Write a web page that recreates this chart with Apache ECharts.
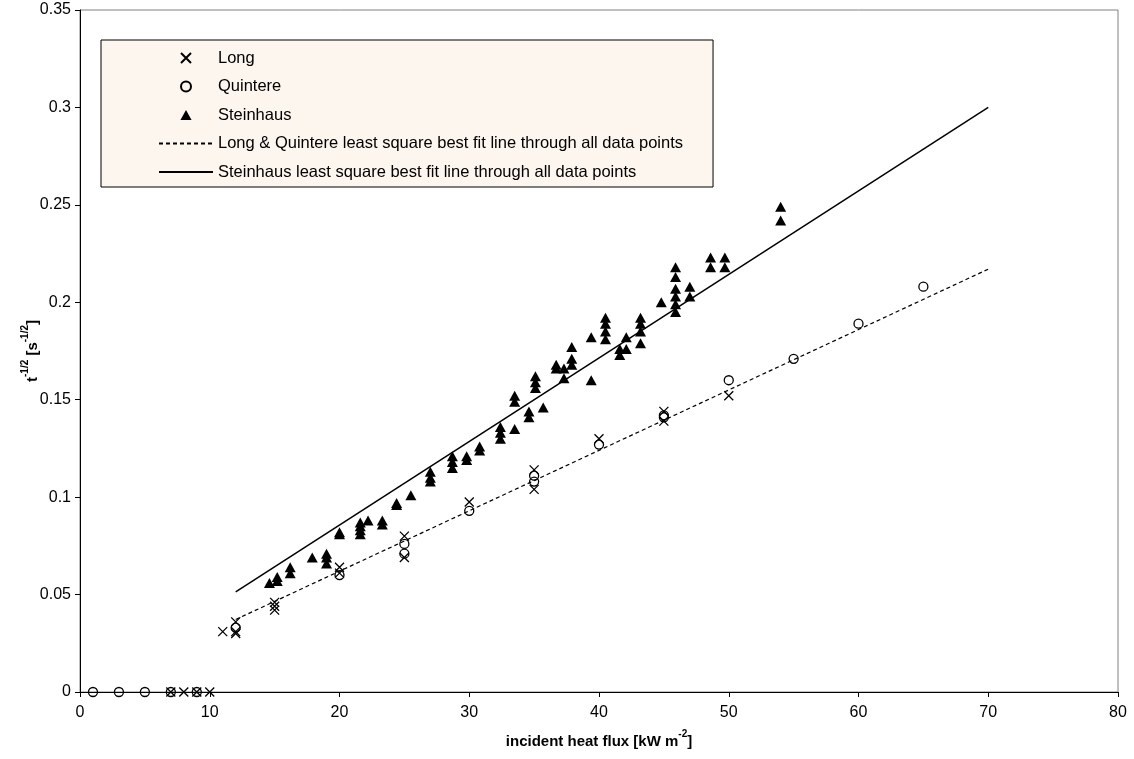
<!DOCTYPE html>
<html>
<head>
<meta charset="utf-8">
<script src="https://cdn.jsdelivr.net/npm/echarts@6/dist/echarts.min.js"></script>
<style>html,body{margin:0;padding:0;background:#fff}#chart{width:1134px;height:759px}</style>
</head>
<body>
<div id="chart"></div>
<script>
// Long data points [heat flux, t^-1/2]
const longPoints = [
  [7,0],[8,0],[9,0],[10,0],
  [11,0.031],[12,0.036],[12,0.031],[12,0.030],
  [15,0.046],[15,0.044],[15,0.042],
  [20,0.064],[20,0.061],
  [25,0.080],[25,0.069],
  [30,0.0975],
  [35,0.114],[35,0.104],
  [40,0.130],
  [45,0.144],[45,0.139],
  [50,0.152]
];
// Quintere data points
const quintPoints = [
  [1,0],[3,0],[5,0],[7,0],[9,0],
  [12,0.033],
  [20,0.060],
  [25,0.076],[25,0.071],
  [30,0.093],
  [35,0.111],[35,0.108],
  [40,0.127],
  [45,0.142],[45,0.141],
  [50,0.160],
  [55,0.171],
  [60,0.189],
  [65,0.208]
];
// Steinhaus data points
const steinPoints = [
  [14.6,0.056],
  [15.2,0.057],[15.2,0.059],
  [16.2,0.061],[16.2,0.064],
  [17.9,0.069],
  [19.0,0.066],[19.0,0.069],[19.0,0.071],
  [20.0,0.081],[20.0,0.082],
  [21.6,0.081],[21.6,0.083],[21.6,0.085],[21.6,0.087],
  [22.2,0.088],
  [23.3,0.086],[23.3,0.088],
  [24.4,0.096],[24.4,0.097],
  [25.5,0.101],
  [27.0,0.108],[27.0,0.110],[27.0,0.113],
  [28.7,0.115],[28.7,0.118],[28.7,0.121],
  [29.8,0.119],[29.8,0.121],
  [30.8,0.124],[30.8,0.126],
  [32.4,0.130],[32.4,0.133],[32.4,0.136],
  [33.5,0.135],[33.5,0.149],[33.5,0.152],
  [34.6,0.141],[34.6,0.144],
  [35.1,0.156],[35.1,0.159],[35.1,0.162],
  [35.7,0.146],
  [36.7,0.166],[36.7,0.168],
  [37.3,0.161],[37.3,0.166],
  [37.9,0.168],[37.9,0.171],[37.9,0.177],
  [39.4,0.160],[39.4,0.182],
  [40.5,0.181],[40.5,0.185],[40.5,0.189],[40.5,0.192],
  [41.6,0.173],[41.6,0.176],
  [42.1,0.176],[42.1,0.182],
  [43.2,0.179],[43.2,0.185],[43.2,0.189],[43.2,0.192],
  [44.8,0.200],
  [45.9,0.195],[45.9,0.199],[45.9,0.203],[45.9,0.207],[45.9,0.213],[45.9,0.218],
  [47.0,0.203],[47.0,0.208],
  [48.6,0.218],[48.6,0.223],
  [49.7,0.218],[49.7,0.223],
  [54.0,0.242],[54.0,0.249]
];
// Best fit lines (end points)
const lqFit = [[12,0.0372],[70,0.217]];
const steinFit = [[12,0.0514],[70,0.300]];
const xTicks = [0,10,20,30,40,50,60,70,80];
const yTicks = [0,0.05,0.1,0.15,0.2,0.25,0.3,0.35];

const names = [
  'Long',
  'Quintere',
  'Steinhaus',
  'Long & Quintere least square best fit line through all data points',
  'Steinhaus least square best fit line through all data points'
];
const font = 'Liberation Sans, Arial, sans-serif';
const crossPath = 'path://M0,0L10,10M10,0L0,10';
const triPath = 'path://M5,0L10,9L0,9Z';

const titleRich = {
  b: {fontFamily: font, fontSize: 15, fontWeight: 'bold', color: '#000', lineHeight: 20, verticalAlign: 'bottom'},
  s: {fontFamily: font, fontSize: 10, fontWeight: 'bold', color: '#000', lineHeight: 20, verticalAlign: 'top'}
};

const chart = echarts.init(document.getElementById('chart'), null, {renderer:'canvas'});
chart.setOption({
  animation: false,
  textStyle: {fontFamily: font},
  grid: {left: 80, right: 16, top: 10, bottom: 67, show: true, borderColor: '#808080', borderWidth: 1},
  legend: {
    orient: 'vertical',
    left: 101, top: 40,
    padding: [9, 30, 6, 57],
    backgroundColor: '#FDF6EE',
    borderColor: '#000', borderWidth: 1,
    itemWidth: 54, itemHeight: 10, itemGap: 10.5,
    symbolKeepAspect: true,
    textStyle: {fontFamily: font, fontSize: 16.5, color: '#000', lineHeight: 18},
    data: [
      {name: names[0]},
      {name: names[1]},
      {name: names[2], icon: triPath},
      {name: names[3], itemStyle: {opacity: 0}},
      {name: names[4], itemStyle: {opacity: 0}}
    ],
    selectedMode: false
  },
  xAxis: {
    type: 'value', min: xTicks[0], max: xTicks[xTicks.length-1], interval: 10,
    name: '{b|incident heat flux [kW m}{s|-2}{b|]}',
    nameLocation: 'middle', nameGap: 37, nameMoveOverlap: false,
    nameTextStyle: {rich: titleRich},
    axisLine: {lineStyle: {color: '#000', width: 1}},
    axisTick: {show: true, inside: false, length: 5, lineStyle: {color: '#000'}},
    axisLabel: {fontFamily: font, fontSize: 16, color: '#000', margin: 13},
    splitLine: {show: false}
  },
  yAxis: {
    type: 'value', min: yTicks[0], max: yTicks[yTicks.length-1], interval: 0.05,
    name: '{b|t}{s|-1/2}{b| [s}{s|-1/2}{b|]}',
    nameLocation: 'middle', nameGap: 40, nameMoveOverlap: false,
    nameTextStyle: {rich: titleRich},
    axisLine: {show: true, lineStyle: {color: '#000', width: 1}},
    axisTick: {show: true, inside: false, length: 5, lineStyle: {color: '#000'}},
    axisLabel: {fontFamily: font, fontSize: 16, color: '#000', margin: 9},
    splitLine: {show: false}
  },
  series: [
    {name: names[0], type: 'scatter', data: longPoints, symbol: crossPath, symbolSize: 9,
     itemStyle: {color: 'rgba(0,0,0,0)', borderColor: '#000', borderWidth: 1.3, opacity: 1}, z: 4},
    {name: names[1], type: 'scatter', data: quintPoints, symbol: 'circle', symbolSize: 9,
     itemStyle: {color: 'rgba(0,0,0,0)', borderColor: '#000', borderWidth: 1.3, opacity: 1}, z: 4},
    {name: names[2], type: 'scatter', data: steinPoints, symbol: triPath, symbolSize: [11, 10],
     itemStyle: {color: '#000', opacity: 1}, z: 4},
    {name: names[3], type: 'line', data: lqFit, symbol: 'none', showSymbol: false,
     lineStyle: {color: '#000', width: 1.2, type: [4, 3]}, itemStyle: {color: '#000'}, z: 3},
    {name: names[4], type: 'line', data: steinFit, symbol: 'none', showSymbol: false,
     lineStyle: {color: '#000', width: 1.5, type: 'solid'}, itemStyle: {color: '#000'}, z: 3}
  ]
});
</script>
</body>
</html>
